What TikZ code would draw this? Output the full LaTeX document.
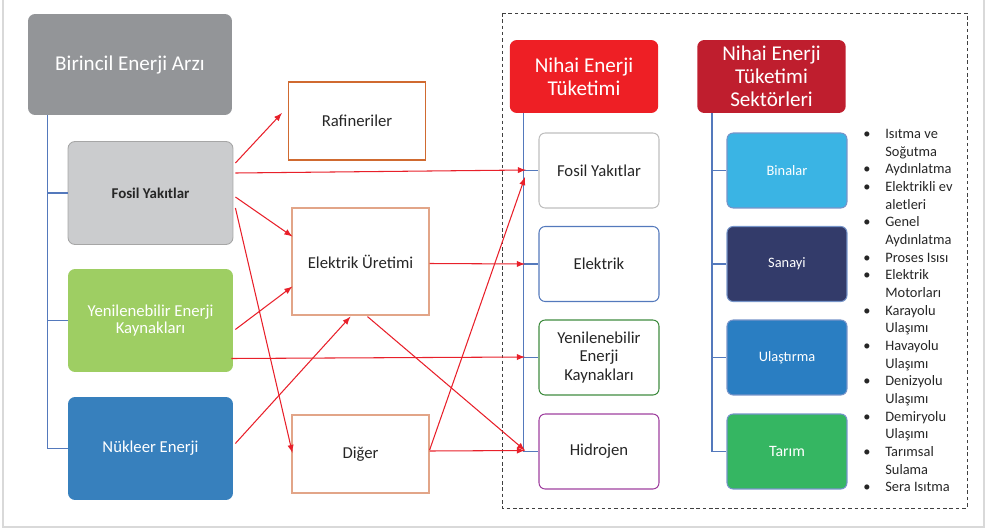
\documentclass[tikz,border=0pt]{standalone}
\usepackage{fontspec}
\setmainfont{Carlito}
\usetikzlibrary{calc}

\definecolor{arzgri}{HTML}{939598}
\definecolor{fosilgri}{HTML}{CBCCCE}
\definecolor{yesil}{HTML}{9ECE63}
\definecolor{nukmavi}{HTML}{3780BD}
\definecolor{agacmavi}{HTML}{5479BC}
\definecolor{okkirmizi}{HTML}{E8202A}
\definecolor{turuncu}{HTML}{D06A30}
\definecolor{acikturuncu}{HTML}{E2A588}
\definecolor{nihaikirmizi}{HTML}{EE1F25}
\definecolor{koyukirmizi}{HTML}{BF1E2E}
\definecolor{binamavi}{HTML}{3AB4E4}
\definecolor{sanayilaci}{HTML}{333B6A}
\definecolor{ulasmavi}{HTML}{2A7EC2}
\definecolor{tarimyesil}{HTML}{35B662}
\definecolor{yazi}{HTML}{262626}

\begin{document}
\begin{tikzpicture}[x=0.02cm, y=-0.02cm,
    kutu/.style={rounded corners=4pt, align=center, inner sep=1pt},
    sol/.style={kutu, text=white, minimum width=3.3cm, minimum height=2.06cm,
        font=\fontsize{9.5}{10}\selectfont},
    orta/.style={draw=acikturuncu, line width=0.7pt, text=yazi, inner sep=1pt,
        minimum width=2.74cm, font=\fontsize{9.5}{11}\selectfont},
    baslik/.style={kutu, text=white, minimum width=2.97cm, minimum height=1.46cm,
        font=\fontsize{12}{13}\selectfont},
    tuketim/.style={kutu, fill=white, text=yazi, line width=0.6pt, rounded corners=3.5pt,
        minimum width=2.4cm, minimum height=1.5cm, font=\fontsize{9.5}{10.3}\selectfont},
    sektor/.style={kutu, text=white, draw=agacmavi!80, line width=0.6pt, rounded corners=3.5pt,
        minimum width=2.4cm, minimum height=1.5cm, font=\fontsize{8.2}{10}\selectfont},
    agac/.style={draw=agacmavi, line width=0.8pt},
    ok/.style={-latex, draw=okkirmizi, line width=0.6pt}]

    \useasboundingbox (0,0) rectangle (992,531);
    \draw[black!15, line width=0.6pt] (3,0) |- (984,527) -- (984,0);

    % birincil enerji arzi
    \node[kutu, fill=arzgri, text=white, minimum width=4.08cm, minimum height=2.02cm,
        font=\fontsize{12}{13}\selectfont] (arz) at (130,64.5) {Birincil Enerji Arzı};
    \node[sol, fill=fosilgri, draw=black!35, line width=0.5pt, text=yazi,
        font=\fontsize{8.5}{10}\selectfont\bfseries] (fosilL) at (150.5,193) {Fosil Yakıtlar};
    \node[sol, fill=yesil] (yeniL) at (150.5,320.5) {Yenilenebilir Enerji\\Kaynakları};
    \node[sol, fill=nukmavi] (nukL) at (150.5,448.5) {Nükleer Enerji};

    \coordinate (solkok) at ($(arz.south west)+(20,0)$);
    \foreach \n in {fosilL,yeniL,nukL}
        \draw[agac] (solkok) |- (\n.west);

    % donusum
    \node[orta, draw=turuncu, line width=0.6pt, minimum height=1.56cm] (rafineri) at (357,121) {Rafineriler};
    \node[orta, minimum height=2.14cm] (elekUr) at (360.5,261.5) {Elektrik Üretimi};
    \node[orta, minimum height=1.56cm] (diger) at (360.5,454) {Diğer};

    % nihai tuketim
    \draw[black!75, line width=0.5pt, dash pattern=on 2pt off 1.6pt] (502,13) rectangle (967,508);

    \node[baslik, fill=nihaikirmizi] (nihai) at (584,76.5) {Nihai Enerji\\Tüketimi};
    \node[tuketim, draw=black!25] (fosilR) at (599,170.5) {Fosil Yakıtlar};
    \node[tuketim, draw=agacmavi] (elekR) at (599,264) {Elektrik};
    \node[tuketim, draw=green!40!black!75] (yeniR) at (599,357.5) {Yenilenebilir\\Enerji\\Kaynakları};
    \node[tuketim, draw=violet!75] (hidR) at (599,451.5) {Hidrojen};

    \coordinate (nihaikok) at ($(nihai.south west)+(14,0)$);
    \foreach \n in {fosilR,elekR,yeniR,hidR}
        \draw[agac] (nihaikok) |- (\n.west);

    \node[baslik, fill=koyukirmizi] (sektorler) at (771.5,76.5) {Nihai Enerji\\Tüketimi\\Sektörleri};
    \node[sektor, fill=binamavi] (binalar) at (787,170.5) {Binalar};
    \node[sektor, fill=sanayilaci] (sanayi) at (787,264) {Sanayi};
    \node[sektor, fill=ulasmavi] (ulastirma) at (787,357.5) {Ulaştırma};
    \node[sektor, fill=tarimyesil, font=\fontsize{9}{10}\selectfont] (tarim) at (787,451.5) {Tarım};

    \coordinate (sektorkok) at ($(sektorler.south west)+(15,0)$);
    \foreach \n in {binalar,sanayi,ulastirma,tarim}
        \draw[agac] (sektorkok) |- (\n.west);

    \node[anchor=north west, inner sep=0pt, text=yazi, font=\fontsize{8.2}{10.06}\selectfont]
        (alanlar) at (863,125.6) {%
        \begin{tabular}{@{}p{0.44cm}@{}l@{}}
            \textbullet & Isıtma ve\\
                        & Soğutma\\
            \textbullet & Aydınlatma\\
            \textbullet & Elektrikli ev\\
                        & aletleri\\
            \textbullet & Genel\\
                        & Aydınlatma\\
            \textbullet & Proses Isısı\\
            \textbullet & Elektrik\\
                        & Motorları\\
            \textbullet & Karayolu\\
                        & Ulaşımı\\
            \textbullet & Havayolu\\
                        & Ulaşımı\\
            \textbullet & Denizyolu\\
                        & Ulaşımı\\
            \textbullet & Demiryolu\\
                        & Ulaşımı\\
            \textbullet & Tarımsal\\
                        & Sulama\\
            \textbullet & Sera Isıtma
        \end{tabular}};

    % oklar
    \coordinate (gFosil) at (526,170);
    \coordinate (gFosil2) at (525,177);
    \coordinate (gElek) at (525,264);
    \coordinate (gYeni) at (525,357);
    \coordinate (gHid) at (525,450.5);

    \draw[ok] ($(fosilL.east)+(2,-30)$) -- ($(rafineri.west)+(-6,-8)$);
    \draw[ok] ($(fosilL.east)+(2,-20)$) -- (gFosil);
    \draw[ok] ($(fosilL.east)+(2,4)$) -- ($(elekUr.west)+(1,-25)$);
    \draw[ok] ($(fosilL.east)+(2,15)$) -- ($(diger.west)+(1,-1)$);
    \draw[ok] ($(yeniL.east)+(2,9)$) -- ($(elekUr.west)+(1,25)$);
    \draw[ok] ($(yeniL.east)+(-2,38)$) -- (gYeni);
    \draw[ok] ($(nukL.east)+(2,-5)$) -- ($(elekUr.south)+(-10,1)$);
    \draw[ok] ($(elekUr.east)+(0,2)$) -- (gElek);
    \draw[ok] ($(elekUr.south)+(7,1)$) -- (gHid);
    \draw[ok] ($(diger.east)+(0,-3)$) -- (gHid);
    \draw[ok] ($(diger.east)+(0,-4)$) -- (gFosil2);
\end{tikzpicture}
\end{document}
